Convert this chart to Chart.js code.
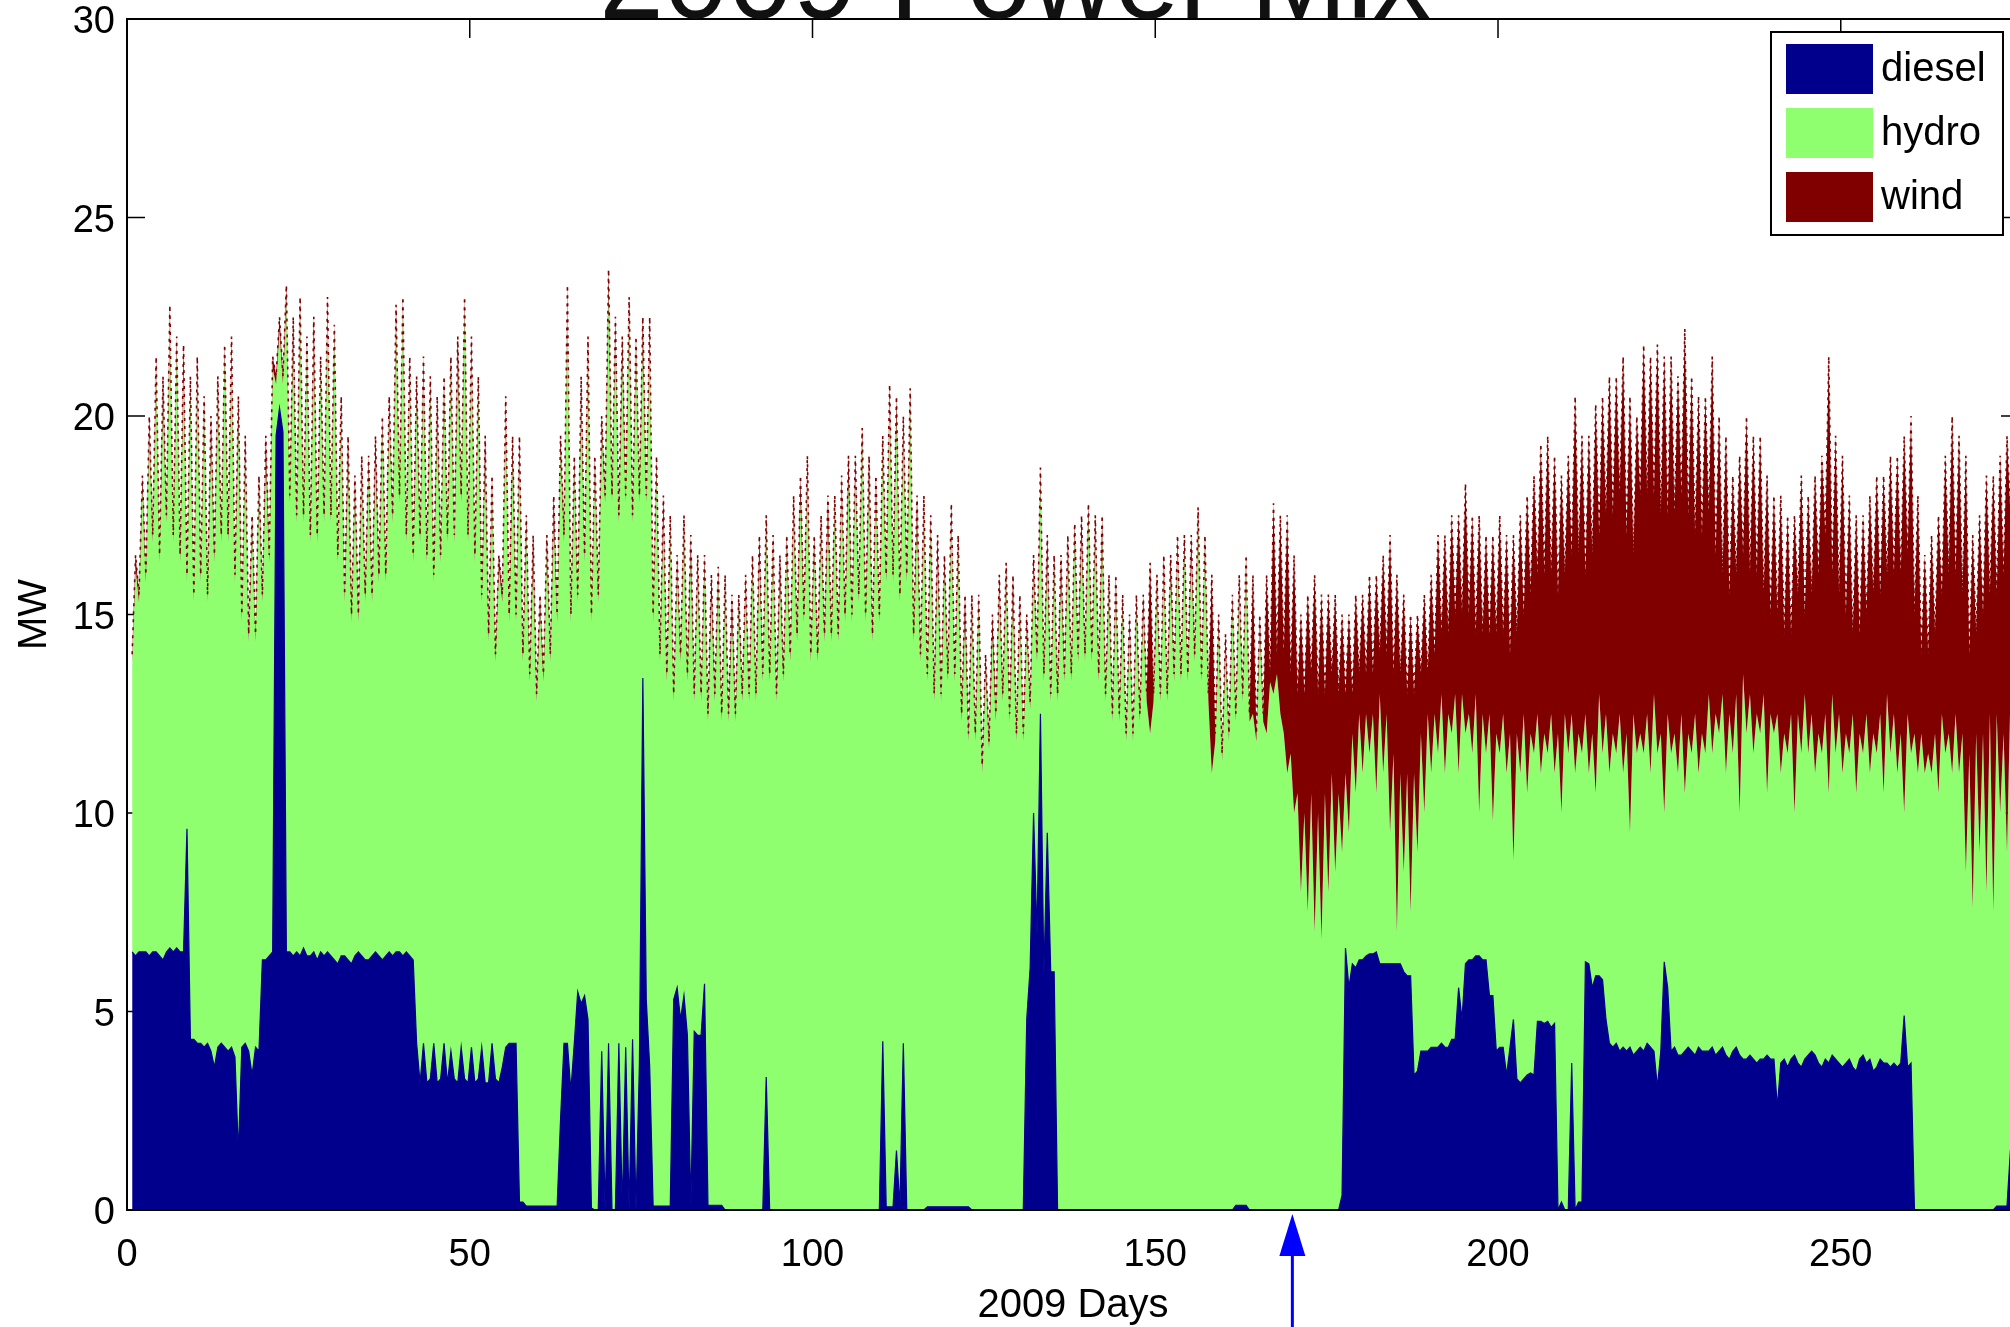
<!DOCTYPE html>
<html>
<head>
<meta charset="utf-8">
<title>2009 Power Mix</title>
<script src="https://cdn.jsdelivr.net/npm/chart.js"></script>
<style>
  html, body { margin: 0; padding: 0; background: #fff; overflow: hidden; }
  canvas { display: block; }
</style>
</head>
<body>
<canvas id="mix" width="2030" height="1327"></canvas>
<script>
// Axis ticks
const dayTicks = [0, 50, 100, 150, 200, 250];
const mwTicks = [0, 5, 10, 15, 20, 25, 30];
const markerDay = 170;

// Two samples per day (night low, day high), starting at day 0.75
const days = [];
for (let i = 0; i < 550; i++) days.push(0.75 + i * 0.5);

// Diesel output, MW
const dieselMW = [
  6.5, 6.4, 6.5, 6.5, 6.5, 6.4, 6.5, 6.5, 6.4, 6.3, 6.5, 6.6, 6.5, 6.6, 6.5, 6.5, 9.6, 4.3, 4.3, 4.2,
  4.2, 4.1, 4.2, 4.0, 3.6, 4.1, 4.2, 4.1, 4.0, 4.1, 3.85, 1.45, 4.1, 4.2, 4.0, 3.4, 4.1, 4.0, 6.3, 6.3,
  6.4, 6.5, 19.5, 20.2, 19.6, 6.5, 6.5, 6.4, 6.5, 6.4, 6.6, 6.4, 6.4, 6.5, 6.3, 6.5, 6.4, 6.5, 6.4, 6.3,
  6.2, 6.4, 6.4, 6.3, 6.2, 6.4, 6.5, 6.4, 6.3, 6.3, 6.4, 6.5, 6.4, 6.3, 6.4, 6.5, 6.4, 6.5, 6.5, 6.4,
  6.5, 6.4, 6.3, 4.2, 3.2, 4.2, 3.2, 3.3, 4.2, 3.2, 3.3, 4.2, 3.2, 4.0, 3.3, 3.2, 4.1, 3.3, 3.2, 4.1,
  3.2, 3.3, 4.1, 3.2, 3.2, 4.2, 3.3, 3.2, 3.6, 4.1, 4.2, 4.2, 4.2, 0.2, 0.2, 0.1, 0.1, 0.1, 0.1, 0.1,
  0.1, 0.1, 0.1, 0.1, 0.1, 2.3, 4.2, 4.2, 3.0, 4.2, 5.5, 5.2, 5.4, 4.8, 0.05, 0, 0, 4.0, 0, 4.2,
  0, 0, 4.2, 0, 4.1, 0, 4.3, 0, 3.7, 13.4, 5.3, 3.6, 0.1, 0.1, 0.1, 0.1, 0.1, 0.1, 5.3, 5.6,
  4.8, 5.4, 4.4, 0.1, 4.5, 4.4, 4.4, 5.7, 0.12, 0.12, 0.12, 0.12, 0.12, 0, 0, 0, 0, 0, 0, 0,
  0, 0, 0, 0, 0, 3.35, 0, 0, 0, 0, 0, 0, 0, 0, 0, 0, 0, 0, 0, 0,
  0, 0, 0, 0, 0, 0, 0, 0, 0, 0, 0, 0, 0, 0, 0, 0, 0, 0, 0, 4.25,
  0.08, 0.08, 0.08, 1.5, 0.08, 4.2, 0, 0, 0, 0, 0, 0, 0.08, 0.08, 0.08, 0.08, 0.08, 0.08, 0.08, 0.08,
  0.08, 0.08, 0.08, 0.08, 0.08, 0, 0, 0, 0, 0, 0, 0, 0, 0, 0, 0, 0, 0, 0, 0,
  0, 4.8, 6.1, 10.0, 6.9, 12.5, 5.9, 9.5, 6.0, 6.0, 0, 0, 0, 0, 0, 0, 0, 0, 0, 0,
  0, 0, 0, 0, 0, 0, 0, 0, 0, 0, 0, 0, 0, 0, 0, 0, 0, 0, 0, 0,
  0, 0, 0, 0, 0, 0, 0, 0, 0, 0, 0, 0, 0, 0, 0, 0, 0, 0, 0, 0,
  0, 0, 0.12, 0.12, 0.12, 0.12, 0, 0, 0, 0, 0, 0, 0, 0, 0, 0, 0, 0, 0, 0,
  0, 0, 0, 0, 0, 0, 0, 0, 0, 0, 0, 0, 0, 0.37, 6.6, 5.6, 6.2, 6.1, 6.3, 6.3,
  6.4, 6.45, 6.45, 6.5, 6.2, 6.2, 6.2, 6.2, 6.2, 6.2, 6.2, 6.0, 5.9, 5.9, 3.4, 3.5, 4.0, 4.0, 4.0, 4.1,
  4.1, 4.1, 4.2, 4.1, 4.1, 4.3, 4.3, 5.6, 4.8, 6.2, 6.3, 6.3, 6.4, 6.4, 6.3, 6.3, 5.4, 5.4, 4.0, 4.1,
  4.1, 3.4, 4.1, 4.8, 3.3, 3.2, 3.3, 3.4, 3.45, 3.4, 4.75, 4.75, 4.7, 4.75, 4.6, 4.7, 0, 0.2, 0, 0,
  3.7, 0, 0.2, 0.2, 6.25, 6.2, 5.6, 5.9, 5.9, 5.8, 4.8, 4.2, 4.1, 4.2, 4.0, 4.1, 4.0, 4.1, 3.9, 4.0,
  4.1, 4.0, 4.2, 4.1, 4.0, 3.1, 4.0, 6.25, 5.6, 4.0, 4.1, 3.9, 3.9, 4.0, 4.1, 4.0, 3.9, 4.1, 4.0, 4.0,
  4.0, 4.1, 3.9, 4.0, 4.1, 3.9, 3.8, 4.0, 4.1, 3.9, 3.8, 3.8, 3.9, 3.8, 3.7, 3.8, 3.8, 3.9, 3.8, 3.8,
  2.6, 3.7, 3.8, 3.6, 3.8, 3.9, 3.7, 3.6, 3.8, 3.9, 4.0, 3.9, 3.7, 3.6, 3.8, 3.7, 3.9, 3.8, 3.7, 3.6,
  3.7, 3.8, 3.6, 3.5, 3.8, 3.9, 3.7, 3.8, 3.5, 3.6, 3.8, 3.7, 3.7, 3.6, 3.7, 3.6, 3.7, 4.9, 3.6, 3.7,
  0, 0, 0, 0, 0, 0, 0, 0, 0, 0, 0, 0, 0, 0, 0, 0, 0, 0, 0, 0,
  0, 0, 0, 0, 0.1, 0.1, 0.1, 0.1, 1.5, 1.5
];

// Top of the hydro layer (diesel + hydro), MW
const hydroTopMW = [
  13.8, 16.2, 15.3, 18.2, 15.8, 19.7, 16.8, 21.2, 16.3, 20.5, 17.3, 22.5, 16.8, 21.7, 16.3, 21.3, 15.8, 20.7, 15.3, 21.2,
  15.8, 20.2, 15.3, 19.5, 16.3, 20.7, 16.8, 21.5, 16.8, 21.7, 15.8, 20.0, 14.8, 19.2, 14.3, 17.2, 14.3, 18.2, 15.3, 19.0,
  16.3, 21.2, 20.8, 22.2, 20.8, 23.0, 17.8, 22.0, 17.3, 22.7, 17.3, 21.7, 16.8, 22.0, 16.8, 21.2, 17.3, 22.7, 17.3, 22.0,
  16.3, 20.2, 15.3, 19.0, 14.8, 18.2, 14.8, 18.7, 15.3, 18.7, 15.3, 19.0, 15.8, 19.7, 15.8, 20.2, 17.3, 22.5, 17.8, 22.7,
  16.8, 21.2, 16.3, 20.5, 16.8, 21.2, 16.3, 20.7, 15.8, 20.0, 16.3, 20.7, 16.8, 21.2, 16.8, 21.5, 17.8, 22.7, 16.8, 21.7,
  16.3, 20.7, 15.3, 19.0, 14.3, 18.2, 13.8, 16.2, 15.3, 20.2, 14.8, 19.0, 14.8, 19.2, 13.8, 17.2, 13.3, 16.5, 12.8, 15.2,
  13.3, 16.7, 13.8, 17.5, 14.8, 19.2, 16.8, 23.0, 14.8, 18.7, 15.3, 20.5, 16.3, 21.7, 14.8, 18.7, 15.3, 19.7, 17.8, 23.2,
  17.8, 22.2, 17.3, 21.5, 17.8, 22.7, 17.3, 21.7, 17.8, 22.0, 17.8, 22.2, 14.8, 18.7, 13.8, 17.5, 13.3, 17.2, 12.8, 16.2,
  13.8, 17.2, 13.3, 16.5, 12.8, 16.2, 12.8, 16.2, 12.3, 15.5, 12.8, 15.9, 12.3, 15.7, 12.3, 15.0, 12.3, 15.2, 12.8, 15.7,
  12.8, 16.2, 12.8, 16.5, 13.3, 17.2, 13.3, 16.7, 12.8, 16.0, 13.3, 16.7, 13.8, 17.7, 14.3, 18.0, 14.8, 18.7, 13.8, 16.7,
  13.8, 17.2, 14.3, 17.5, 14.3, 17.7, 14.3, 18.2, 14.8, 18.5, 14.8, 18.7, 15.3, 19.4, 14.8, 18.5, 14.3, 18.2, 14.8, 19.2,
  15.8, 20.5, 15.8, 20.0, 15.3, 19.7, 15.8, 20.4, 14.3, 17.5, 13.8, 17.7, 13.3, 17.2, 12.8, 16.5, 12.8, 16.2, 13.3, 17.5,
  13.3, 16.7, 12.3, 15.0, 11.8, 15.2, 11.8, 15.2, 11.0, 13.7, 11.6, 14.5, 12.3, 15.7, 12.8, 16.0, 12.3, 15.5, 11.8, 15.2,
  11.8, 14.7, 12.6, 16.2, 13.8, 18.4, 13.3, 16.5, 12.8, 16.2, 12.8, 16.0, 13.3, 16.7, 13.3, 17.0, 13.8, 17.0, 13.8, 17.5,
  13.8, 17.2, 13.3, 17.0, 12.8, 15.7, 12.3, 15.7, 12.3, 15.2, 11.8, 14.7, 11.8, 15.2, 12.3, 15.2, 12.8, 12.0, 12.8, 15.7,
  12.8, 16.2, 12.8, 16.0, 13.3, 16.7, 13.3, 16.7, 13.3, 16.5, 13.8, 17.4, 13.3, 16.7, 12.8, 11.0, 11.8, 14.7, 11.3, 14.2,
  11.8, 15.2, 12.3, 15.7, 12.8, 16.2, 12.3, 12.5, 11.8, 14.7, 12.3, 12.0, 13.3, 13.0, 13.5, 12.5, 12.0, 11.0, 11.5, 10.0,
  10.5, 8.0, 10.0, 7.5, 10.5, 7.0, 10.0, 6.8, 10.5, 8.0, 11.0, 8.5, 10.5, 9.0, 11.0, 9.5, 12.0, 10.5, 12.5, 11.0,
  12.5, 11.5, 12.5, 10.5, 13.0, 11.0, 12.5, 9.5, 11.5, 7.0, 11.0, 8.5, 11.0, 7.5, 11.0, 9.0, 12.0, 10.0, 12.5, 11.0,
  12.5, 11.5, 13.0, 11.0, 12.5, 12.0, 13.0, 11.0, 13.0, 12.0, 12.5, 11.5, 13.0, 10.0, 12.5, 11.5, 12.5, 9.8, 12.0, 11.5,
  12.5, 11.0, 12.0, 8.8, 12.0, 11.0, 12.5, 10.5, 12.0, 11.5, 12.5, 11.0, 12.0, 11.5, 12.5, 11.0, 12.0, 10.0, 12.5, 11.5,
  12.5, 11.0, 12.0, 11.5, 12.5, 11.0, 12.0, 10.5, 13.0, 11.5, 12.5, 11.0, 12.0, 11.5, 12.5, 11.0, 12.0, 9.5, 12.5, 11.5,
  12.0, 11.5, 12.5, 11.0, 13.0, 11.5, 12.0, 10.0, 12.5, 11.5, 12.0, 11.0, 12.5, 10.5, 12.0, 11.5, 12.5, 11.0, 12.0, 11.5,
  13.0, 11.5, 12.5, 12.0, 13.0, 11.0, 12.5, 11.5, 13.0, 10.0, 13.5, 12.0, 13.0, 11.5, 12.5, 12.0, 13.0, 10.5, 12.5, 12.0,
  12.5, 11.0, 12.0, 11.5, 12.5, 10.0, 12.5, 11.5, 13.0, 11.5, 12.5, 11.0, 12.0, 11.5, 12.5, 10.5, 13.0, 11.5, 12.5, 11.0,
  12.0, 11.5, 12.5, 10.5, 12.0, 11.5, 12.5, 11.0, 12.0, 11.5, 12.5, 10.5, 13.0, 11.5, 12.5, 11.0, 12.0, 10.0, 12.5, 11.5,
  12.0, 11.0, 12.0, 11.0, 11.5, 11.0, 12.0, 10.5, 12.5, 11.5, 12.0, 11.0, 12.5, 11.0, 12.0, 8.5, 11.5, 7.6, 12.0, 9.0,
  12.0, 8.0, 12.5, 7.5, 12.5, 10.0, 12.0, 9.0, 13.0, 8.0
];

// Total output (diesel + hydro + wind), MW
const totalMW = [
  14.0, 16.5, 15.5, 18.5, 16.0, 20.0, 17.0, 21.5, 16.5, 21.0, 17.5, 22.8, 17.0, 22.0, 16.5, 21.8, 16.0, 21.0, 15.5, 21.5,
  16.0, 20.5, 15.5, 20.0, 16.5, 21.0, 17.0, 21.8, 17.0, 22.0, 16.0, 20.5, 15.0, 19.5, 14.5, 17.5, 14.5, 18.5, 15.5, 19.5,
  16.5, 21.5, 21.0, 22.5, 21.0, 23.3, 18.0, 22.5, 17.5, 23.0, 17.5, 22.0, 17.0, 22.5, 17.0, 21.5, 17.5, 23.0, 17.5, 22.3,
  16.5, 20.5, 15.5, 19.5, 15.0, 18.5, 15.0, 19.0, 15.5, 19.0, 15.5, 19.5, 16.0, 20.0, 16.0, 20.5, 17.5, 22.8, 18.0, 23.0,
  17.0, 21.5, 16.5, 21.0, 17.0, 21.5, 16.5, 21.0, 16.0, 20.5, 16.5, 21.0, 17.0, 21.5, 17.0, 22.0, 18.0, 23.0, 17.0, 22.0,
  16.5, 21.0, 15.5, 19.5, 14.5, 18.5, 14.0, 16.5, 15.5, 20.5, 15.0, 19.5, 15.0, 19.5, 14.0, 17.5, 13.5, 17.0, 13.0, 15.5,
  13.5, 17.0, 14.0, 18.0, 15.0, 19.5, 17.0, 23.3, 15.0, 19.0, 15.5, 21.0, 16.5, 22.0, 15.0, 19.0, 15.5, 20.0, 18.0, 23.7,
  18.0, 22.5, 17.5, 22.0, 18.0, 23.0, 17.5, 22.0, 18.0, 22.5, 18.0, 22.5, 15.0, 19.0, 14.0, 18.0, 13.5, 17.5, 13.0, 16.5,
  14.0, 17.5, 13.5, 17.0, 13.0, 16.5, 13.0, 16.5, 12.5, 16.0, 13.0, 16.2, 12.5, 16.0, 12.5, 15.5, 12.5, 15.5, 13.0, 16.0,
  13.0, 16.5, 13.0, 17.0, 13.5, 17.5, 13.5, 17.0, 13.0, 16.5, 13.5, 17.0, 14.0, 18.0, 14.5, 18.5, 15.0, 19.0, 14.0, 17.0,
  14.0, 17.5, 14.5, 18.0, 14.5, 18.0, 14.5, 18.5, 15.0, 19.0, 15.0, 19.0, 15.5, 19.7, 15.0, 19.0, 14.5, 18.5, 15.0, 19.5,
  16.0, 20.8, 16.0, 20.5, 15.5, 20.0, 16.0, 20.7, 14.5, 18.0, 14.0, 18.0, 13.5, 17.5, 13.0, 17.0, 13.0, 16.5, 13.5, 17.8,
  13.5, 17.0, 12.5, 15.5, 12.0, 15.5, 12.0, 15.5, 11.2, 14.0, 11.8, 15.0, 12.5, 16.0, 13.0, 16.3, 12.5, 16.0, 12.0, 15.5,
  12.0, 15.0, 12.8, 16.5, 14.0, 18.7, 13.5, 17.0, 13.0, 16.5, 13.0, 16.5, 13.5, 17.0, 13.5, 17.3, 14.0, 17.5, 14.0, 17.8,
  14.0, 17.5, 13.5, 17.5, 13.0, 16.0, 12.5, 16.0, 12.5, 15.5, 12.0, 15.0, 12.0, 15.5, 12.5, 15.5, 13.0, 16.3, 13.0, 16.0,
  13.0, 16.5, 13.0, 16.5, 13.5, 17.0, 13.5, 17.0, 13.5, 17.0, 14.0, 17.7, 13.5, 17.0, 13.0, 16.0, 12.0, 15.0, 11.5, 14.5,
  12.0, 15.5, 12.5, 16.0, 13.0, 16.5, 12.5, 16.0, 12.0, 15.0, 12.5, 16.0, 13.5, 17.8, 14.0, 17.5, 14.0, 17.5, 13.5, 16.5,
  13.0, 15.0, 13.0, 15.5, 13.5, 16.0, 13.0, 15.5, 13.0, 15.5, 13.5, 15.5, 13.0, 15.0, 13.0, 15.0, 13.0, 15.5, 13.5, 15.5,
  13.5, 16.0, 13.5, 16.0, 14.0, 16.5, 14.0, 17.0, 13.5, 16.0, 13.5, 15.5, 13.0, 15.0, 13.0, 15.0, 13.5, 15.5, 13.5, 16.0,
  14.0, 17.0, 14.5, 17.0, 14.5, 17.5, 15.0, 17.5, 15.0, 18.3, 15.0, 17.5, 14.5, 17.5, 14.5, 17.0, 14.5, 17.0, 14.5, 17.5,
  14.5, 17.0, 14.0, 17.0, 14.5, 17.5, 15.0, 18.0, 15.5, 18.5, 16.0, 19.3, 16.0, 19.5, 16.0, 19.0, 15.5, 18.5, 16.0, 19.0,
  16.5, 20.5, 16.5, 19.5, 16.0, 19.5, 16.5, 20.3, 17.0, 20.5, 17.5, 21.0, 17.5, 21.0, 18.0, 21.5, 17.0, 20.5, 16.5, 20.0,
  18.0, 21.8, 18.0, 21.5, 18.0, 21.8, 17.5, 21.5, 17.5, 21.5, 17.5, 21.0, 18.0, 22.2, 17.5, 21.0, 17.0, 20.5, 17.0, 20.5,
  17.5, 21.5, 16.5, 20.0, 16.0, 19.5, 15.5, 18.5, 16.0, 19.0, 16.5, 20.0, 16.0, 19.5, 16.0, 19.5, 15.5, 18.5, 15.0, 18.0,
  15.0, 18.0, 14.5, 17.5, 14.5, 17.5, 15.5, 18.5, 15.0, 18.0, 15.5, 18.5, 16.0, 19.0, 17.0, 21.5, 16.0, 19.5, 15.5, 19.0,
  15.0, 18.0, 14.5, 17.5, 14.5, 17.5, 15.0, 18.0, 15.5, 18.5, 15.5, 18.5, 16.0, 19.0, 16.0, 19.0, 16.0, 19.5, 16.5, 20.0,
  15.0, 18.0, 14.0, 16.5, 14.0, 17.0, 14.5, 17.5, 15.5, 19.0, 16.0, 20.0, 16.0, 19.5, 15.5, 19.0, 14.0, 17.0, 14.5, 17.5,
  15.0, 18.5, 15.5, 18.5, 15.5, 19.0, 16.0, 19.5, 17.5, 22.3
];

const seriesNames = ['diesel', 'hydro', 'wind'];
const seriesColors = ['#00008c', '#8fff70', '#800000'];

const toPoints = vals => vals.map((v, i) => ({ x: days[i], y: v }));

const FONT = '"Liberation Sans", Arial, Helvetica, sans-serif';

// Box around the axes, with inward ticks drawn under the areas
const axesFrame = {
  id: 'axesFrame',
  beforeDatasetsDraw(chart) {
    const { ctx, chartArea: a, scales: { x, y } } = chart;
    ctx.save();
    ctx.strokeStyle = '#000';
    ctx.lineWidth = 1.5;
    ctx.beginPath();
    dayTicks.forEach(t => {
      const px = x.getPixelForValue(t);
      ctx.moveTo(px, a.top); ctx.lineTo(px, a.top + 19);
      ctx.moveTo(px, a.bottom); ctx.lineTo(px, a.bottom - 19);
    });
    mwTicks.forEach(t => {
      const py = y.getPixelForValue(t);
      ctx.moveTo(a.left, py); ctx.lineTo(a.left + 18, py);
      ctx.moveTo(a.right, py); ctx.lineTo(a.right - 18, py);
    });
    ctx.stroke();
    ctx.restore();
  },
  afterDatasetsDraw(chart) {
    const { ctx, chartArea: a } = chart;
    ctx.save();
    ctx.strokeStyle = '#000';
    ctx.lineWidth = 2;
    ctx.strokeRect(a.left, a.top, a.right - a.left, a.bottom - a.top);
    ctx.restore();
  }
};

// Big title sitting on the top edge of the axes
const topTitle = {
  id: 'topTitle',
  afterDraw(chart) {
    const { ctx, chartArea: a } = chart;
    ctx.save();
    ctx.font = '116px ' + FONT;
    ctx.fillStyle = '#111';
    ctx.textAlign = 'center';
    ctx.textBaseline = 'alphabetic';
    ctx.fillText('2009 Power Mix', a.left + 888, a.top - 1);
    ctx.restore();
  }
};

// Boxed legend in the upper right corner
const boxLegend = {
  id: 'boxLegend',
  afterDraw(chart) {
    const { ctx, chartArea: a } = chart;
    const left = a.right - 248, top = a.top + 13, w = 232, h = 203;
    ctx.save();
    ctx.fillStyle = '#fff';
    ctx.fillRect(left, top, w, h);
    ctx.strokeStyle = '#000';
    ctx.lineWidth = 2;
    ctx.strokeRect(left, top, w, h);
    ctx.font = '40px ' + FONT;
    ctx.textAlign = 'left';
    ctx.textBaseline = 'middle';
    chart.data.datasets.forEach((ds, i) => {
      const sy = top + 12 + i * 64;
      ctx.fillStyle = ds.backgroundColor;
      ctx.fillRect(left + 15, sy, 87, 50);
      ctx.fillStyle = '#000';
      ctx.fillText(ds.label, left + 110, sy + 26);
    });
    ctx.restore();
  }
};

// Blue arrow under the x axis
const dayMarker = {
  id: 'dayMarker',
  afterDraw(chart) {
    const { ctx, chartArea: a, scales: { x } } = chart;
    const px = x.getPixelForValue(markerDay);
    ctx.save();
    ctx.strokeStyle = '#0000ff';
    ctx.fillStyle = '#0000ff';
    ctx.lineWidth = 3;
    ctx.beginPath();
    ctx.moveTo(px, a.bottom + 44);
    ctx.lineTo(px, chart.height);
    ctx.stroke();
    ctx.beginPath();
    ctx.moveTo(px, a.bottom + 4);
    ctx.lineTo(px - 13, a.bottom + 46);
    ctx.lineTo(px + 13, a.bottom + 46);
    ctx.closePath();
    ctx.fill();
    ctx.restore();
  }
};

const layers = [dieselMW, hydroTopMW, totalMW];

new Chart(document.getElementById('mix'), {
  type: 'line',
  data: {
    datasets: layers.map((vals, i) => ({
      label: seriesNames[i],
      data: toPoints(vals),
      backgroundColor: seriesColors[i],
      borderColor: seriesColors[i],
      borderWidth: i === 1 ? 0 : (i === 2 ? 1.6 : 1.2),
      // wind edge is dotted, as the thin wind slivers show up as specks
      borderDash: i === 2 ? [3, 5] : [],
      fill: i === 0 ? 'origin' : '-1',
      order: i === 2 ? -1 : 0,
      pointRadius: 0,
      tension: 0
    }))
  },
  options: {
    responsive: false,
    animation: false,
    devicePixelRatio: 1,
    layout: { padding: { top: 19, right: 11, bottom: 0, left: 0 } },
    plugins: {
      legend: { display: false },
      tooltip: { enabled: false }
    },
    scales: {
      x: {
        type: 'linear',
        min: 0,
        max: 276,
        afterBuildTicks: s => { s.ticks = dayTicks.map(v => ({ value: v })); },
        afterFit: s => { s.height = 117; s.paddingLeft = 0; s.paddingRight = 0; },
        grid: { display: false, drawTicks: false },
        border: { display: false },
        ticks: { color: '#000', font: { family: FONT, size: 38, lineHeight: 0.9 }, padding: 28, maxRotation: 0, autoSkip: false },
        title: { display: true, text: '2009 Days', color: '#000', font: { family: FONT, size: 40, lineHeight: 1 }, padding: { top: 0, bottom: 1 } }
      },
      y: {
        min: 0,
        max: 30,
        afterBuildTicks: s => { s.ticks = mwTicks.map(v => ({ value: v })); },
        afterFit: s => { s.width = 127; s.paddingTop = 0; s.paddingBottom = 0; },
        grid: { display: false, drawTicks: false },
        border: { display: false },
        ticks: { color: '#000', font: { family: FONT, size: 38, lineHeight: 0.9 }, padding: 12, labelOffset: 4 },
        title: { display: true, text: 'MW', color: '#000', font: { family: FONT, size: 40 }, padding: { top: 11, bottom: 0 } }
      }
    }
  },
  plugins: [axesFrame, topTitle, boxLegend, dayMarker]
});
</script>
</body>
</html>
